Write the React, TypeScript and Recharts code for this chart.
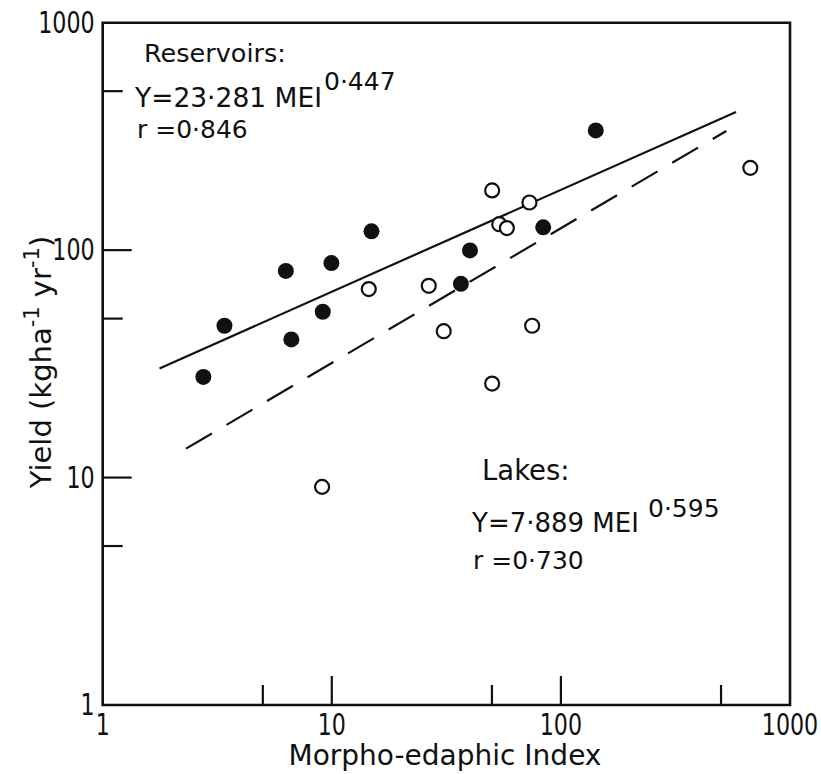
import React from "react";
import { ScatterChart, Scatter, XAxis, YAxis, ReferenceArea } from "recharts";

// values (log-log axes)
const axisTicks = [1, 5, 10, 50, 100, 500, 1000];
const labelledTicks = [1, 10, 100, 1000];

const reservoirs = [
  { x: 2.75, y: 27.7 },
  { x: 3.4, y: 46.5 },
  { x: 6.3, y: 81 },
  { x: 6.66, y: 40.5 },
  { x: 9.13, y: 53.6 },
  { x: 9.96, y: 87.7 },
  { x: 14.9, y: 121 },
  { x: 36.6, y: 71.1 },
  { x: 40.1, y: 99.7 },
  { x: 83.7, y: 126 },
  { x: 142, y: 336 },
];

const lakes = [
  { x: 9.07, y: 9.1 },
  { x: 14.5, y: 67.4 },
  { x: 26.5, y: 69.7 },
  { x: 30.8, y: 44 },
  { x: 50.1, y: 183 },
  { x: 50.1, y: 25.9 },
  { x: 53.8, y: 130 },
  { x: 58.1, y: 125 },
  { x: 72.9, y: 162 },
  { x: 74.9, y: 46.5 },
  { x: 671, y: 230 },
];

const reservoirFit = [
  { x: 1.77, y: 30.2 },
  { x: 581, y: 405 },
];

const lakeFit = [
  { x: 2.31, y: 13.4 },
  { x: 527, y: 334 },
];

const INK = "#111";
const textFont = "'DejaVu Sans', sans-serif";

function tickLength(v: number) {
  if (v === 1 || v === 1000) return 0;
  return labelledTicks.includes(v) ? 29 : 20;
}

// narrow digits like the original lettering (squeezed horizontally)
function TickText({ x, y, v, anchor }: { x: number; y: number; v: number; anchor: string }) {
  return (
    <text transform={`translate(${x},${y}) scale(0.74,1)`} textAnchor={anchor}
      dominantBaseline="central" fontFamily={textFont} fontSize={30} fill={INK}>
      {v}
    </text>
  );
}

function XTick(props: any) {
  const { x, y, payload } = props;
  const v = payload.value;
  const len = tickLength(v);
  return (
    <g>
      {len > 0 && <line x1={x} x2={x} y1={y} y2={y - len} stroke={INK} strokeWidth={2.2} />}
      {labelledTicks.includes(v) && <TickText x={x} y={y + 20} v={v} anchor="middle" />}
    </g>
  );
}

function YTick(props: any) {
  const { x, y, payload } = props;
  const v = payload.value;
  const len = tickLength(v);
  return (
    <g>
      {len > 0 && <line x1={x} x2={x + len} y1={y} y2={y} stroke={INK} strokeWidth={2.2} />}
      {labelledTicks.includes(v) && <TickText x={x - 8} y={y} v={v} anchor="end" />}
    </g>
  );
}

const FilledDot = (p: any) => <circle cx={p.cx} cy={p.cy} r={8} fill={INK} />;
const OpenDot = (p: any) => (
  <circle cx={p.cx} cy={p.cy} r={7} fill="#fff" stroke={INK} strokeWidth={2.2} />
);
const NoDot = () => <g />;

export default function App() {
  return (
    <div style={{ position: "absolute", left: 0, top: 0, width: 821, height: 774, background: "#fff" }}>
      <ScatterChart width={821} height={774} margin={{ top: 22.7, right: 31, bottom: 0, left: 0 }}>
        <XAxis
          dataKey="x" type="number" scale="log" domain={[1, 1000]} ticks={axisTicks}
          interval={0} allowDataOverflow axisLine={false} tickLine={false}
          tickSize={0} tickMargin={0} height={69} tick={<XTick />}
        />
        <YAxis
          dataKey="y" type="number" scale="log" domain={[1, 1000]} ticks={axisTicks}
          interval={0} allowDataOverflow axisLine={false} tickLine={false}
          tickSize={0} tickMargin={0} width={102.7} tick={<YTick />}
        />
        <ReferenceArea x1={1} x2={1000} y1={1} y2={1000} fill="none" fillOpacity={0}
          stroke={INK} strokeWidth={2.6} />
        <Scatter data={reservoirFit} line={{ stroke: INK, strokeWidth: 2.2 }} shape={NoDot}
          isAnimationActive={false} legendType="none" />
        <Scatter data={lakeFit} line={{ stroke: INK, strokeWidth: 2.2, strokeDasharray: "30 17" }}
          shape={NoDot} isAnimationActive={false} legendType="none" />
        <Scatter data={lakes} shape={OpenDot} isAnimationActive={false} />
        <Scatter data={reservoirs} shape={FilledDot} isAnimationActive={false} />
      </ScatterChart>

      <svg width={821} height={774}
        style={{ position: "absolute", left: 0, top: 0, pointerEvents: "none" }}>
        <g fontFamily={textFont} fill={INK}>
          <text x={144} y={62} fontSize={25.5}>Reservoirs:</text>
          <text x={135} y={107} fontSize={26.5}>Y=23·281 MEI</text>
          <text x={324} y={90} fontSize={25}>0·447</text>
          <text x={137} y={138} fontSize={25}>r =0·846</text>

          <text x={482} y={480} fontSize={27.5}>Lakes:</text>
          <text x={472} y={532} fontSize={26}>Y=7·889 MEI</text>
          <text x={648} y={517} fontSize={25}>0·595</text>
          <text x={473} y={569} fontSize={25}>r =0·730</text>

          <text x={445} y={765} fontSize={28} textAnchor="middle">Morpho-edaphic Index</text>
          <text transform="translate(51, 362) rotate(-90)" fontSize={29} textAnchor="middle">
            Yield (kgha<tspan fontSize={21} dy={-12}>-1</tspan>
            <tspan dy={12}> yr</tspan><tspan fontSize={21} dy={-12}>-1</tspan>
            <tspan dy={12}>)</tspan>
          </text>
        </g>
      </svg>
    </div>
  );
}
